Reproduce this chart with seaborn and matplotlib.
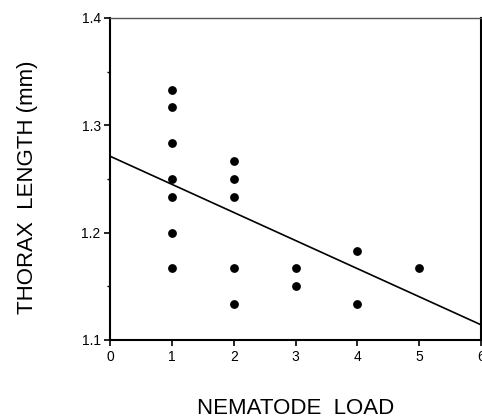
import matplotlib
matplotlib.use("Agg")
import matplotlib.pyplot as plt
import seaborn as sns
import numpy as np
import pandas as pd
from matplotlib.ticker import MultipleLocator

# Data
nematode_load = [1, 1, 1, 1, 1, 1, 1,
                 2, 2, 2, 2, 2,
                 3, 3,
                 4, 4,
                 5]
thorax_length = [1.333, 1.317, 1.283, 1.250, 1.233, 1.200, 1.167,
                 1.267, 1.250, 1.233, 1.167, 1.133,
                 1.167, 1.150,
                 1.183, 1.133,
                 1.167]
fit_x = [0, 6]
fit_y = [1.271, 1.114]

x_ticks = [0, 1, 2, 3, 4, 5, 6]
y_ticks = [1.1, 1.2, 1.3, 1.4]

sns.set_theme(style="ticks")
plt.rcParams['font.family'] = ['Liberation Sans', 'DejaVu Sans']

df = pd.DataFrame({"load": nematode_load, "thorax": thorax_length})
fit_df = pd.DataFrame({"x": fit_x, "y": fit_y})

fig = plt.figure(figsize=(4.82, 4.18), dpi=100)
ax = fig.add_axes([0.229, 0.187, 0.769, 0.770])

sns.scatterplot(data=df, x="load", y="thorax", ax=ax, color="black",
                s=40, edgecolor="black", linewidth=0, zorder=3)
sns.lineplot(data=fit_df, x="x", y="y", ax=ax, color="black", linewidth=1.2)

ax.set_xlim(0, 6)
ax.set_ylim(1.1, 1.4)
ax.set_xticks(x_ticks)
ax.set_yticks(y_ticks)
ax.set_xticklabels([str(t) for t in x_ticks])
ax.set_yticklabels([f"{t:.1f}" for t in y_ticks])
ax.yaxis.set_minor_locator(MultipleLocator(0.05))

for side in ["left", "bottom", "right", "top"]:
    ax.spines[side].set_visible(True)
    ax.spines[side].set_color("black")
ax.spines["left"].set_linewidth(1.5)
ax.spines["bottom"].set_linewidth(1.5)
ax.spines["right"].set_linewidth(1.5)
ax.spines["top"].set_linewidth(1.0)
ax.spines["top"].set_color("#555555")

ax.tick_params(axis="both", which="major", direction="out", length=4,
               width=1.2, colors="black", labelsize=10, pad=3)
ax.tick_params(axis="y", which="minor", direction="out", length=2.5,
               width=1.0, colors="black")
ax.tick_params(top=False, right=False)

ax.set_xlabel("NEMATODE  LOAD", fontsize=16, labelpad=25, color="black")
ax.set_ylabel("THORAX  LENGTH (mm)", fontsize=16, color="black")
ax.yaxis.set_label_coords(-0.194, 0.475)

fig.savefig("out.png", dpi=100, facecolor="white")
